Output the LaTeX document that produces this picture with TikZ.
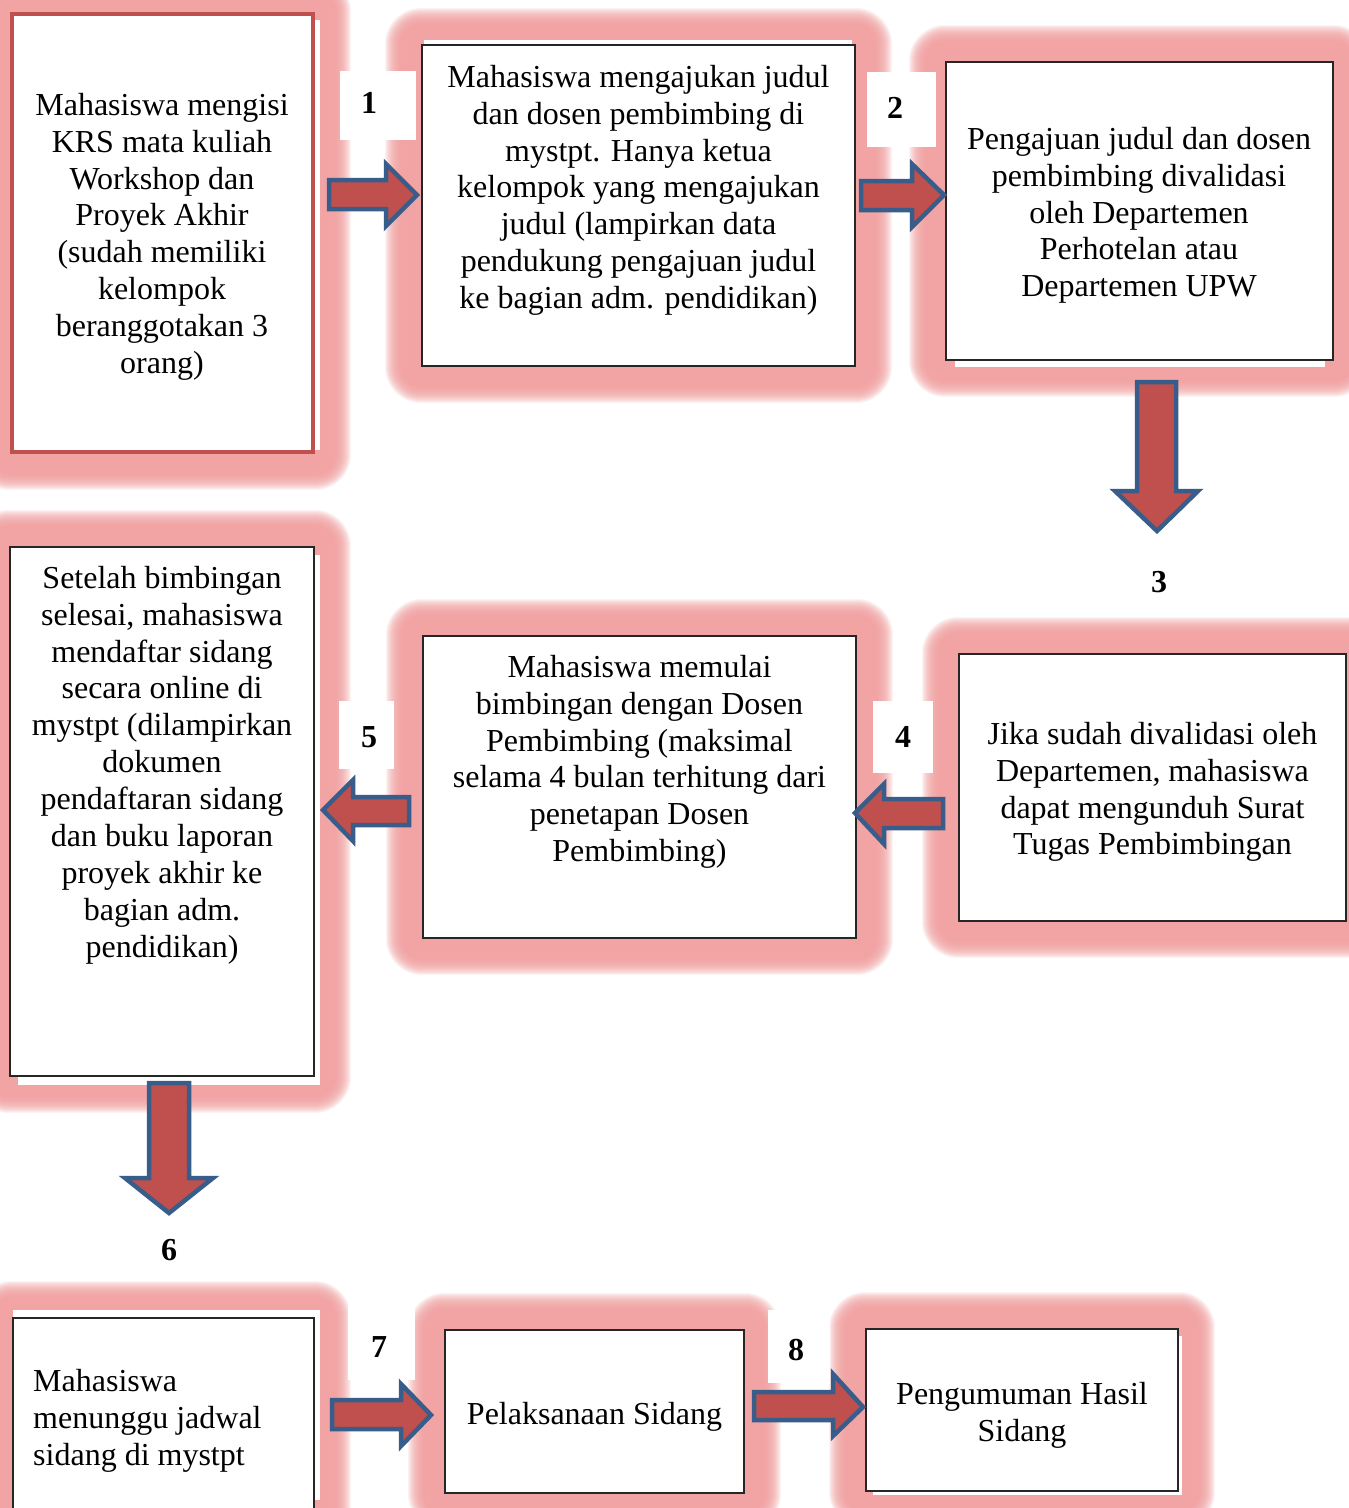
\documentclass[tikz,border=0pt]{standalone}
\usepackage{fontspec}
\setmainfont{Liberation Serif}
\pgfdeclarelayer{glow}
\pgfdeclarelayer{under}
\pgfsetlayers{glow,under,main}
\definecolor{glowc}{RGB}{242,158,158}
\definecolor{arrowfill}{RGB}{192,80,77}
\definecolor{arrowline}{RGB}{56,93,138}
\definecolor{redline}{RGB}{192,80,77}
\tikzset{
  box/.style={draw=black!85, line width=1.3pt, fill=white, inner sep=0pt, rectangle},
  redbox/.style={box, draw=redline, line width=4.5pt},
  glowline/.style={draw=glowc, opacity=.13, line join=round},
  txt/.style={font=\fontsize{32}{36.9}\selectfont, align=center, inner sep=0pt, anchor=north},
  numlabel/.style={font=\fontsize{32}{36.9}\selectfont\bfseries, inner sep=0pt},
  whitepatch/.style={fill=white, draw=none},
  blockarrow/.style={fill=arrowfill, draw=arrowline, line width=4.5pt, line join=miter}
}
\begin{document}
\begin{tikzpicture}[x=1pt,y=-1pt]
\clip (0,0) rectangle (1349,1508);

% process boxes
\node[redbox, minimum width=301pt, minimum height=438pt] (b1) at (162.5,233) {};
\node[box, minimum width=433pt, minimum height=321pt] (b2) at (638.5,205.5) {};
\node[box, minimum width=387pt, minimum height=298pt] (b3) at (1139.5,211) {};
\node[box, minimum width=387pt, minimum height=267pt] (b4) at (1152.5,787.5) {};
\node[box, minimum width=433pt, minimum height=302pt] (b5) at (639.5,787) {};
\node[box, minimum width=304pt, minimum height=529pt] (b6) at (162,811.5) {};
\node[box, minimum width=301pt, minimum height=222pt] (b7) at (163.5,1429) {};
\node[box, minimum width=299pt, minimum height=163pt] (b8) at (594.5,1411.5) {};
\node[box, minimum width=312pt, minimum height=162pt] (b9) at (1022,1410) {};

% page background and soft pink glow around every box
\begin{pgfonlayer}{glow}
  \fill[white] (0,0) rectangle (1349,1508);
  \foreach \n in {b1,b2,b3,b4,b5,b6,b7,b8,b9}
    \foreach \w in {72,70,...,38}
      \draw[glowline, line width=\w pt] (\n.south west) rectangle (\n.north east);
\end{pgfonlayer}

% white offset sheets just behind the boxes
\begin{pgfonlayer}{under}
  \fill[whitepatch] (18,20) rectangle (320,450);
  \fill[whitepatch] (424,40) rectangle (852,362);
  \fill[whitepatch] (955,70) rectangle (1325,367);
  \fill[whitepatch] (18,555) rectangle (320,1085);
  \fill[whitepatch] (13,1310) rectangle (320,1500);
  \fill[whitepatch] (873,1336) rectangle (1182,1495);
\end{pgfonlayer}

% box texts
\node[txt] (t1) at (162,89.2) {\strut Mahasiswa mengisi\\KRS mata kuliah\\Workshop dan\\Proyek Akhir\\(sudah memiliki\\kelompok\\beranggotakan 3\\orang)};
\node[txt] (t2) at (638.5,61.2) {\strut Mahasiswa mengajukan judul\\dan dosen pembimbing di\\mystpt. Hanya ketua\\kelompok yang mengajukan\\judul (lampirkan data\\pendukung pengajuan judul\\ke bagian adm. pendidikan)};
\node[txt] (t3) at (1139,123.2) {\strut Pengajuan judul dan dosen\\pembimbing divalidasi\\oleh Departemen\\Perhotelan atau\\Departemen UPW};
\node[txt] (t4) at (1152.5,718.2) {\strut Jika sudah divalidasi oleh\\Departemen, mahasiswa\\dapat mengunduh Surat\\Tugas Pembimbingan};
\node[txt] (t5) at (639.5,651.2) {\strut Mahasiswa memulai\\bimbingan dengan Dosen\\Pembimbing (maksimal\\selama 4 bulan terhitung dari\\penetapan Dosen\\Pembimbing)};
\node[txt] (t6) at (162,562.2) {\strut Setelah bimbingan\\selesai, mahasiswa\\mendaftar sidang\\secara online di\\mystpt (dilampirkan\\dokumen\\pendaftaran sidang\\dan buku laporan\\proyek akhir ke\\bagian adm.\\pendidikan)};
\node[txt, align=left, anchor=north west] (t7) at (33,1365.2) {\strut Mahasiswa\\menunggu jadwal\\sidang di mystpt};
\node[txt] (t8) at (594.5,1398.2) {\strut Pelaksanaan Sidang};
\node[txt] (t9) at (1022,1378.2) {\strut Pengumuman Hasil\\Sidang};

% white patches under the step numbers
\fill[whitepatch] (340,71) rectangle (416,140);
\fill[whitepatch] (867,72) rectangle (936,147);
\fill[whitepatch] (873,701) rectangle (933,773);
\fill[whitepatch] (339,701) rectangle (394,769);
\fill[whitepatch] (348,1298) rectangle (415,1380);
\fill[whitepatch] (768,1310) rectangle (830,1383);

% step numbers
\node[numlabel] (n1) at (369,103) {1};
\node[numlabel] (n2) at (895,108) {2};
\node[numlabel] (n3) at (1159,582) {3};
\node[numlabel] (n4) at (903,737) {4};
\node[numlabel] (n5) at (369,737) {5};
\node[numlabel] (n6) at (169,1250) {6};
\node[numlabel] (n7) at (379,1347) {7};
\node[numlabel] (n8) at (796,1350) {8};

% block arrows between the steps
\draw[blockarrow] (329,180) -- (386,180) -- (386,164) -- (417,195) -- (386,226) -- (386,209) -- (329,209) -- cycle;
\draw[blockarrow] (861,181) -- (912,181) -- (912,164) -- (944,195) -- (912,227) -- (912,210) -- (861,210) -- cycle;
\draw[blockarrow] (1137,382) -- (1176,382) -- (1176,491) -- (1198,491) -- (1157,531) -- (1115,491) -- (1137,491) -- cycle;
\draw[blockarrow] (943,799) -- (884,799) -- (884,784) -- (855,813) -- (884,844) -- (884,828) -- (943,828) -- cycle;
\draw[blockarrow] (409,797) -- (353,797) -- (353,780) -- (323,810) -- (353,841) -- (353,825) -- (409,825) -- cycle;
\draw[blockarrow] (149,1083) -- (189,1083) -- (189,1178) -- (213,1178) -- (169,1213) -- (125,1178) -- (149,1178) -- cycle;
\draw[blockarrow] (332,1400) -- (401,1400) -- (401,1384) -- (431,1415) -- (401,1446) -- (401,1429) -- (332,1429) -- cycle;
\draw[blockarrow] (754,1392) -- (833,1392) -- (833,1374) -- (863,1407) -- (833,1436) -- (833,1420) -- (754,1420) -- cycle;
\end{tikzpicture}
\end{document}
